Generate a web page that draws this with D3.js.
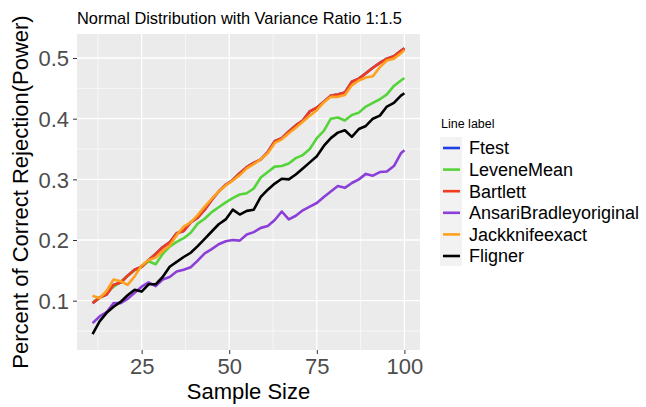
<!DOCTYPE html>
<html><head><meta charset="utf-8">
<script src="https://cdn.jsdelivr.net/npm/d3@7"></script>
<style>body{margin:0;background:#fff}svg{display:block;font-family:"Liberation Sans",Arial,sans-serif}</style>
</head><body>
<svg id="c" width="646" height="407"></svg>
<script>
const sampleSize = [11,13,15,17,19,21,23,25,27,29,31,33,35,37,39,41,43,45,47,49,51,53,55,57,59,61,63,65,67,69,71,73,75,77,79,81,83,85,87,89,91,93,95,97,99,100];
const ftest = [0.096,0.105,0.110,0.126,0.130,0.141,0.151,0.156,0.167,0.177,0.188,0.196,0.211,0.215,0.229,0.237,0.250,0.266,0.280,0.291,0.299,0.310,0.320,0.327,0.333,0.345,0.363,0.368,0.379,0.389,0.397,0.412,0.418,0.428,0.438,0.440,0.443,0.461,0.466,0.475,0.484,0.492,0.499,0.503,0.512,0.516];
const leveneMean = [0.097,0.105,0.114,0.123,0.131,0.141,0.150,0.156,0.165,0.160,0.177,0.189,0.197,0.203,0.212,0.227,0.235,0.246,0.254,0.262,0.269,0.275,0.277,0.285,0.303,0.312,0.321,0.322,0.326,0.335,0.340,0.350,0.368,0.380,0.400,0.402,0.397,0.406,0.410,0.420,0.426,0.432,0.440,0.454,0.463,0.467];
const bartlett = [0.096,0.105,0.110,0.126,0.130,0.141,0.151,0.156,0.167,0.177,0.188,0.196,0.211,0.215,0.229,0.237,0.250,0.266,0.280,0.291,0.299,0.310,0.320,0.327,0.333,0.345,0.363,0.368,0.379,0.389,0.397,0.412,0.418,0.428,0.438,0.440,0.443,0.461,0.466,0.475,0.484,0.492,0.499,0.503,0.512,0.516];
const ansariBradley = [0.063,0.074,0.081,0.096,0.096,0.103,0.113,0.123,0.130,0.124,0.135,0.139,0.148,0.151,0.155,0.166,0.178,0.185,0.193,0.198,0.200,0.199,0.209,0.213,0.220,0.223,0.233,0.247,0.234,0.240,0.249,0.255,0.261,0.271,0.280,0.289,0.286,0.294,0.300,0.309,0.306,0.312,0.313,0.322,0.343,0.348];
const jackknife = [0.108,0.104,0.116,0.135,0.132,0.126,0.140,0.158,0.167,0.171,0.182,0.191,0.208,0.222,0.229,0.241,0.255,0.268,0.280,0.290,0.298,0.307,0.318,0.325,0.333,0.343,0.360,0.366,0.376,0.385,0.395,0.405,0.414,0.427,0.436,0.436,0.439,0.455,0.463,0.468,0.470,0.485,0.496,0.499,0.508,0.513];
const fligner = [0.045,0.066,0.080,0.090,0.098,0.109,0.118,0.115,0.127,0.127,0.139,0.156,0.164,0.172,0.179,0.190,0.202,0.214,0.226,0.234,0.250,0.242,0.248,0.250,0.271,0.283,0.293,0.301,0.300,0.308,0.318,0.328,0.338,0.355,0.368,0.377,0.381,0.370,0.383,0.388,0.400,0.405,0.420,0.426,0.438,0.442];

const seriesNames = ["Ftest","LeveneMean","Bartlett","AnsariBradleyoriginal","Jackknifeexact","Fligner"];
const seriesValues = [ftest, leveneMean, bartlett, ansariBradley, jackknife, fligner];
const seriesColors = ["#1f3fe6","#55d43a","#f03b1e","#8b3fd8","#ffa020","#000000"];
const xTicks = [25,50,75,100];
const xMinor = [12.5,37.5,62.5,87.5];
const yTicks = [0.1,0.2,0.3,0.4,0.5];
const yMinor = [0.05,0.15,0.25,0.35,0.45];

const svg = d3.select("#c");
const P = {l:77, r:420, t:34, b:350};
const x = d3.scaleLinear().domain([6.55,104.45]).range([P.l,P.r]);
const y = d3.scaleLinear().domain([0.0187,0.5396]).range([P.b,P.t]);

svg.append("rect").attr("x",P.l).attr("y",P.t).attr("width",P.r-P.l).attr("height",P.b-P.t).attr("fill","#ebebeb");
const g = svg.append("g");
xMinor.forEach(v=>g.append("line").attr("x1",x(v)).attr("x2",x(v)).attr("y1",P.t).attr("y2",P.b).attr("stroke","#fff").attr("stroke-width",0.6));
yMinor.forEach(v=>g.append("line").attr("y1",y(v)).attr("y2",y(v)).attr("x1",P.l).attr("x2",P.r).attr("stroke","#fff").attr("stroke-width",0.6));
xTicks.forEach(v=>g.append("line").attr("x1",x(v)).attr("x2",x(v)).attr("y1",P.t).attr("y2",P.b).attr("stroke","#fff").attr("stroke-width",1.3));
yTicks.forEach(v=>g.append("line").attr("y1",y(v)).attr("y2",y(v)).attr("x1",P.l).attr("x2",P.r).attr("stroke","#fff").attr("stroke-width",1.3));

const line = d3.line().x((d,i)=>x(sampleSize[i])).y(d=>y(d));
seriesValues.forEach((vals,k)=>{
  svg.append("path").datum(vals).attr("d",line).attr("fill","none")
    .attr("stroke",seriesColors[k]).attr("stroke-width",2.6).attr("stroke-linejoin","round");
});

// axes
const xa = svg.append("g").attr("transform",`translate(0,${P.b})`)
  .call(d3.axisBottom(x).tickValues(xTicks).tickSize(4).tickPadding(4).tickFormat(d3.format("d")));
const ya = svg.append("g").attr("transform",`translate(${P.l},0)`)
  .call(d3.axisLeft(y).tickValues(yTicks).tickSize(4).tickPadding(4).tickFormat(d3.format(".1f")));
[xa,ya].forEach(a=>{
  a.select(".domain").remove();
  a.selectAll(".tick line").attr("stroke","#333").attr("stroke-width",1);
  a.selectAll(".tick text").attr("fill","#4d4d4d").attr("font-size",22).attr("font-family","Liberation Sans, Arial, sans-serif");
});
xa.selectAll(".tick text").attr("dy","0.74em");
ya.selectAll(".tick text").attr("dy","0.36em");

svg.append("text").attr("x",(P.l+P.r)/2).attr("y",399).attr("text-anchor","middle").attr("font-size",22).attr("fill","#000").text("Sample Size");
svg.append("text").attr("transform",`translate(28,${(P.t+P.b)/2}) rotate(-90)`).attr("text-anchor","middle").attr("font-size",22).attr("fill","#000").text("Percent of Correct Rejection(Power)");
svg.append("text").attr("x",77).attr("y",24).attr("font-size",16.4).attr("fill","#000").text("Normal Distribution with Variance Ratio 1:1.5");

// legend
const L = svg.append("g");
L.append("text").attr("x",441).attr("y",128).attr("font-size",12.5).attr("fill","#000").text("Line label");
L.append("rect").attr("x",440).attr("y",137).attr("width",22).attr("height",129).attr("fill","#f2f2f2");
seriesNames.forEach((n,k)=>{
  const cy = 148 + k*21.6;
  L.append("line").attr("x1",443).attr("x2",460).attr("y1",cy).attr("y2",cy).attr("stroke",seriesColors[k]).attr("stroke-width",2.6);
  L.append("text").attr("x",469).attr("y",cy).attr("dy","0.36em").attr("font-size",18).attr("fill","#000").text(n);
});
</script>
</body></html>
